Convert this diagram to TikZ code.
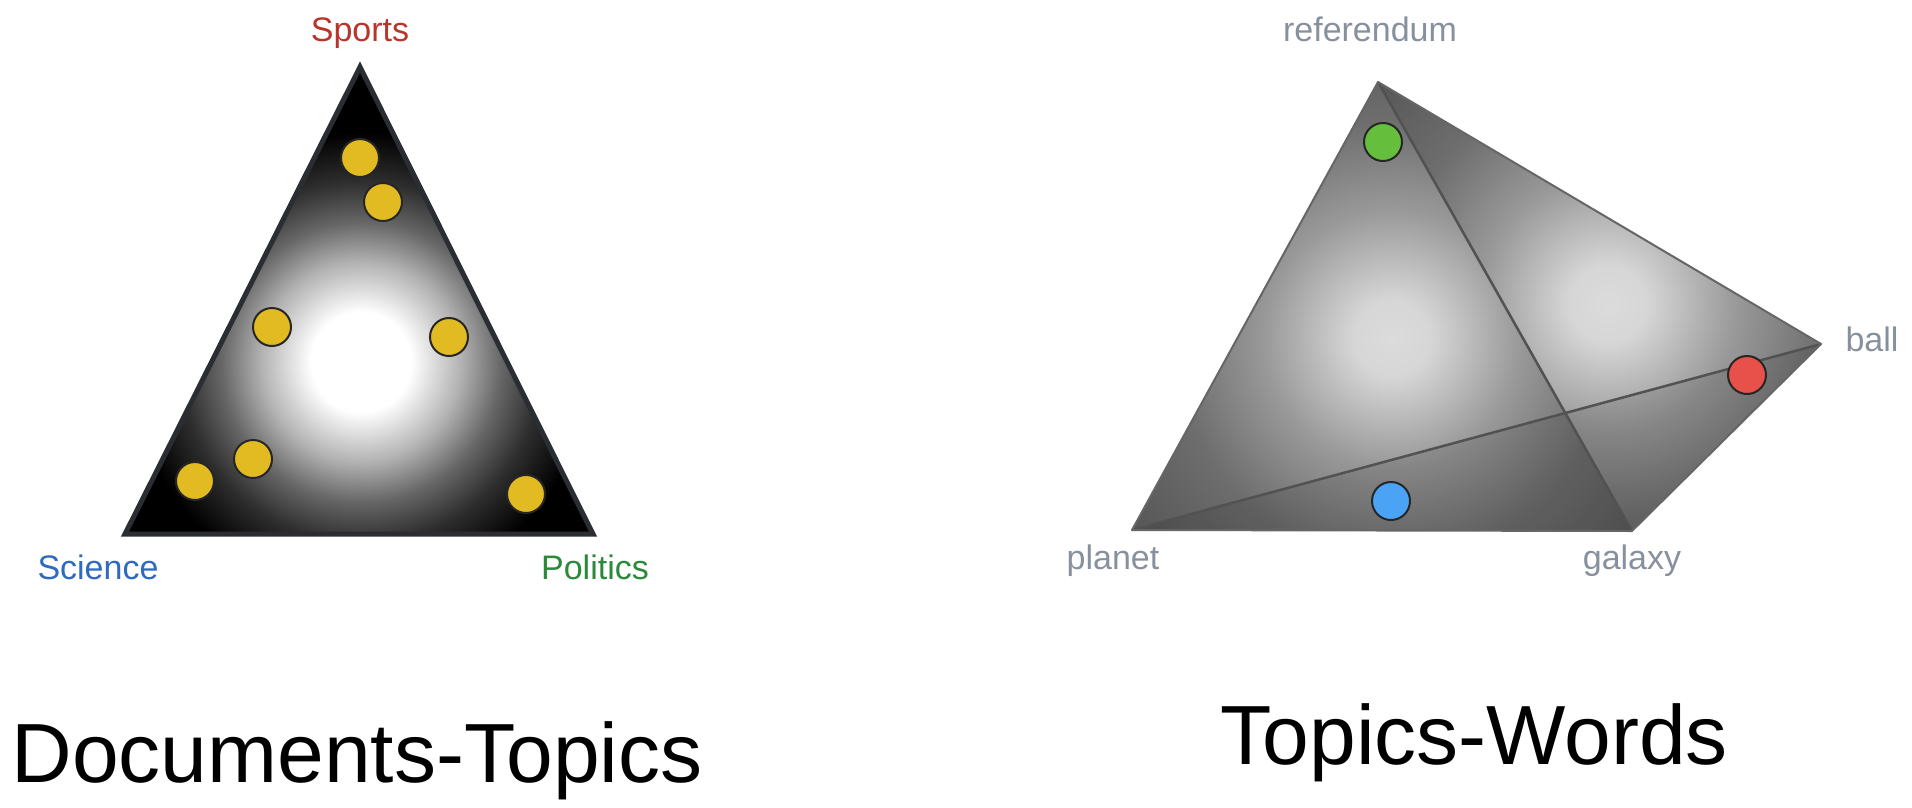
\documentclass[tikz,border=0pt]{standalone}
\usepackage{fontspec}
\setmainfont{Liberation Sans}
\usepackage{tikz}
\usetikzlibrary{positioning,calc}
\usepackage{xcolor}
\definecolor{tsports}{HTML}{B8352B}
\definecolor{tscience}{HTML}{2F6AC0}
\definecolor{tpolitics}{HTML}{2A8A3A}
\definecolor{tword}{HTML}{87919E}
\definecolor{dyellow}{HTML}{E2BA22}
\definecolor{dgreen}{HTML}{66BF3C}
\definecolor{dred}{HTML}{E8504A}
\definecolor{dblue}{HTML}{4BA3F5}
\definecolor{tririm}{HTML}{2A2E33}
\pgfdeclareradialshading{docglow}{\pgfpoint{0bp}{0bp}}{color(0bp)=(white); color(5.2bp)=(white); color(10.4bp)=(black!30); color(14.6bp)=(black!60); color(18.8bp)=(black!82); color(24bp)=(black); color(50bp)=(black)}
\pgfdeclareradialshading{facelight}{\pgfpoint{0bp}{0bp}}{color(0bp)=(black!14); color(3bp)=(black!16); color(10bp)=(black!40); color(17bp)=(black!57); color(25bp)=(black!66); color(50bp)=(black!66)}
\tikzset{
  topicdot/.style={circle, draw=black!85, line width=2pt, minimum size=38pt, inner sep=0pt},
  vertexlabel/.style={font=\fontsize{34}{40}\selectfont, anchor=base},
  bigtitle/.style={font=\fontsize{84}{100}\selectfont, anchor=base west},
  hiddenedge/.style={draw=black!68, line width=2.5pt},
  outeredge/.style={draw=black!60, line width=2pt, line join=round},
}

\begin{document}
\begin{tikzpicture}[x=1pt, y=-1pt]
\useasboundingbox (0,0) rectangle (1912,807);
% documents-topics simplex
\coordinate (sp) at (360,67);
\coordinate (sc) at (125,534);
\coordinate (po) at (593,534);
\begin{scope}
  \clip (sp) -- (sc) -- (po) -- cycle;
  \fill[black] (sp) -- (sc) -- (po) -- cycle;
  \shade[shading=docglow] (361,362) circle (240);
\end{scope}
\draw[tririm, line width=5pt] (sp) -- (sc) -- (po) -- cycle;
\foreach \x/\y [count=\k] in {360/158, 383/202, 272/327, 449/337, 253/459, 195/481, 526/494}{
  \node[topicdot, fill=dyellow] (doc\k) at (\x,\y) {};}
\node[vertexlabel, tsports] (lsports) at (360,41) {Sports};
\node[vertexlabel, tscience] (lscience) at (98,579) {Science};
\node[vertexlabel, tpolitics] (lpolitics) at (595,579) {Politics};
% topics-words simplex
\coordinate (wr) at (1378,82);
\coordinate (wp) at (1132,530);
\coordinate (wg) at (1632,531);
\coordinate (wb) at (1821,344);
\begin{scope}
  \clip (wr) -- (wp) -- (wg) -- cycle;
  \shade[shading=facelight] (1392,338) circle (320);
\end{scope}
\begin{scope}
  \clip (wr) -- (wg) -- (wb) -- cycle;
  \shade[shading=facelight] (1608,304) circle (320);
\end{scope}
\fill[black, opacity=0.12] (wp) -- (wg) -- (wb) -- cycle;
\draw[hiddenedge] (wr) -- (wg);
\draw[hiddenedge] (wp) -- (wb);
\draw[outeredge] (wr) -- (wp) -- (wg) -- (wb) -- cycle;
\node[topicdot, fill=dgreen] (wdot1) at (1383,142) {};
\node[topicdot, fill=dred] (wdot2) at (1747,375) {};
\node[topicdot, fill=dblue] (wdot3) at (1391,501) {};
\node[vertexlabel, tword] (lref) at (1370,41) {referendum};
\node[vertexlabel, tword, anchor=base west] (lball) at (1842,351) {ball};
\node[vertexlabel, tword] (lplanet) at (1113,569) {planet};
\node[vertexlabel, tword] (lgalaxy) at (1632,569) {galaxy};
% titles
\node[bigtitle] (tdoc) at (8,782) {Documents-Topics};
\node[bigtitle] (tword) at (1217,764) {Topics-Words};
\end{tikzpicture}
\end{document}
